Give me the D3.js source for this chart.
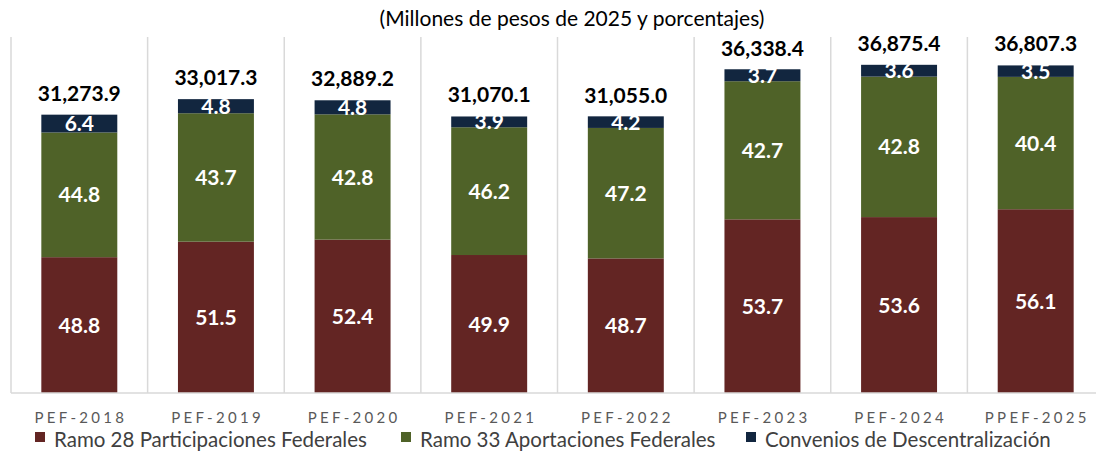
<!DOCTYPE html>
<html><head><meta charset="utf-8">
<script src="https://cdn.jsdelivr.net/npm/d3@7"></script>
<style>body{margin:0;background:#fff;} svg{display:block;font-family:Lato, "Open Sans", sans-serif;}</style>
</head><body>
<svg id="c" width="1096" height="453"></svg>
<script>
const categories = ["PEF-2018","PEF-2019","PEF-2020","PEF-2021","PEF-2022","PEF-2023","PEF-2024","PPEF-2025"];
const totals = [31273.9, 33017.3, 32889.2, 31070.1, 31055.0, 36338.4, 36875.4, 36807.3];
const ramo28 = [48.8, 51.5, 52.4, 49.9, 48.7, 53.7, 53.6, 56.1];
const ramo33 = [44.8, 43.7, 42.8, 46.2, 47.2, 42.7, 42.8, 40.4];
const convenios = [6.4, 4.8, 4.8, 3.9, 4.2, 3.7, 3.6, 3.5];
const seriesNames = ["Ramo 28 Participaciones Federales","Ramo 33 Aportaciones Federales","Convenios de Descentralización"];
const colors = ["#632523","#4F6228","#12263F"];
const title = "(Millones de pesos de 2025 y porcentajes)";

const svg = d3.select("#c");
const x = d3.scaleBand().domain(categories).range([11, 1104]).paddingInner(0.444).paddingOuter(0.222);
const xb = d3.scaleBand().domain(categories).range([11, 1104]);
const y = d3.scaleLinear().domain([0, 40000]).range([393, 37]);

// vertical separators
svg.append("g").selectAll("line").data(categories).join("line")
  .attr("x1", d => xb(d)).attr("x2", d => xb(d))
  .attr("y1", y(40000)).attr("y2", y(0))
  .attr("stroke", "#D9D9D9").attr("stroke-width", 1.5);

const rows = categories.map((c, i) => ({cat: c, total: totals[i], vals: [ramo28[i], ramo33[i], convenios[i]]}));
const stackData = rows.map(r => ({cat: r.cat, total: r.total, s0: r.vals[0]*r.total/100, s1: r.vals[1]*r.total/100, s2: r.vals[2]*r.total/100, p: r.vals}));
const stack = d3.stack().keys(["s0","s1","s2"])(stackData);

const g = svg.append("g");
stack.forEach((layer, li) => {
  g.append("g").selectAll("rect").data(layer).join("rect")
    .attr("x", d => x(d.data.cat)).attr("width", x.bandwidth())
    .attr("y", d => y(d[1])).attr("height", d => y(d[0]) - y(d[1]))
    .attr("fill", colors[li]);
  g.append("g").selectAll("text").data(layer).join("text")
    .attr("x", d => x(d.data.cat) + x.bandwidth()/2)
    .attr("y", d => (y(d[0]) + y(d[1]))/2)
    .attr("dy", "0.36em")
    .attr("text-anchor", "middle")
    .attr("fill", "#fff").attr("font-weight", "bold").attr("font-size", 21)
    .text(d => d.data.p[li].toFixed(1));
});

// totals
svg.append("g").selectAll("text").data(stackData).join("text")
  .attr("x", d => x(d.cat) + x.bandwidth()/2)
  .attr("y", d => y(d.total) - 14)
  .attr("text-anchor", "middle").attr("font-weight", "bold").attr("font-size", 21).attr("fill", "#000")
  .text(d => d3.format(",.1f")(d.total));

// baseline
svg.append("line").attr("x1", 11).attr("x2", 1104).attr("y1", y(0)).attr("y2", y(0))
  .attr("stroke", "#D9D9D9").attr("stroke-width", 1.5);

// x axis
const xAxis = d3.axisBottom(x).tickSize(0).tickPadding(0);
const ax = svg.append("g").attr("transform", `translate(0,${y(0)})`).call(xAxis);
ax.select(".domain").remove();
ax.selectAll("text").attr("y", 30).attr("dy", 0).attr("font-size", 15).attr("fill", "#595959")
  .attr("letter-spacing", "3.3px").attr("dx", "1.6px").attr("font-family", "Lato, sans-serif");

// title
svg.append("text").attr("x", 572).attr("y", 26).attr("text-anchor", "middle")
  .attr("font-size", 21).attr("fill", "#000").text(title);

// legend
const legX = [35, 401, 746];
const leg = svg.append("g").selectAll("g").data(seriesNames).join("g")
  .attr("transform", (d, i) => `translate(${legX[i]},432)`);
leg.append("rect").attr("width", 10).attr("height", 10).attr("fill", (d, i) => colors[i]);
leg.append("text").attr("x", 19).attr("y", 15).attr("font-size", 20.5).attr("fill", "#404040").text(d => d);
</script>
</body></html>
